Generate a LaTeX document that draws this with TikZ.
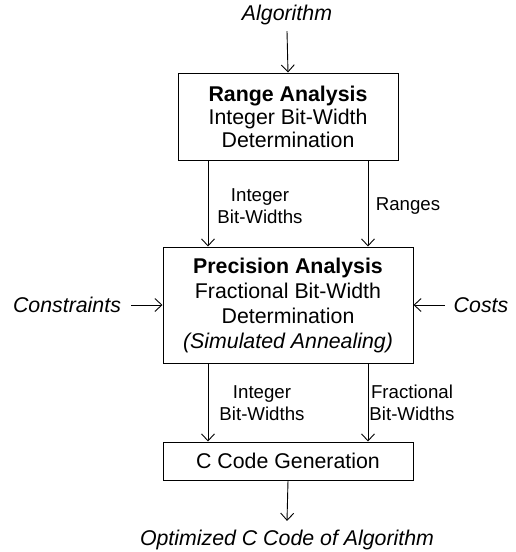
\documentclass[tikz,border=0pt]{standalone}
\usepackage{fontspec}
\setmainfont{Liberation Sans}
\usetikzlibrary{arrows.meta}
\tikzset{
  big/.style={font=\fontsize{21.33}{25}\selectfont, align=center, inner sep=0pt},
  bigit/.style={font=\fontsize{21.33}{25}\selectfont\itshape, align=center, inner sep=0pt},
  small/.style={font=\fontsize{18.67}{22}\selectfont, align=center, inner sep=0pt},
  stagebox/.style={draw, line width=1pt, inner sep=0pt, align=center,
    font=\fontsize{21.33}{25}\selectfont},
  flow/.style={line width=0.9pt, -{Straight Barb[length=7pt,width=13pt]}},
}
\begin{document}
\begin{tikzpicture}[x=1pt,y=-1pt]
  \useasboundingbox (0,0) rectangle (516,552);

  % stages
  \node[stagebox, minimum width=220pt, minimum height=87pt,
        font=\fontsize{21.33}{23}\selectfont] (range) at (288,116.5)
    {\textbf{Range Analysis}\\Integer Bit-Width\\Determination};
  \node[stagebox, minimum width=250pt, minimum height=116pt] (prec) at (288,305)
    {\textbf{Precision Analysis}\\Fractional Bit-Width\\Determination\\\textit{(Simulated Annealing)}};
  \node[stagebox, minimum width=250pt, minimum height=38pt] (ccode) at (288,461)
    {C Code Generation};

  % inputs and outputs
  \node[bigit] (alg) at (287,15) {Algorithm};
  \node[bigit] (cons) at (67,305) {Constraints};
  \node[bigit] (costs) at (481,305) {Costs};
  \node[bigit] (out) at (287,540) {Optimized C Code of Algorithm};

  % edge labels
  \node[small] (l1) at (260,206) {Integer\\Bit-Widths};
  \node[small] (l2) at (408,206) {Ranges};
  \node[small] (l3) at (262,403) {Integer\\Bit-Widths};
  \node[small] (l4) at (412,403) {Fractional\\Bit-Widths};

  % connectors
  \draw[flow] ([yshift=-6pt]alg.south) -- (range.north);
  \draw[flow] ([xshift=-80pt]range.south) -- ([xshift=-80pt]prec.north);
  \draw[flow] ([xshift=80pt]range.south) -- ([xshift=80pt]prec.north);
  \draw[flow] ([xshift=10pt]cons.east) -- (prec.west);
  \draw[flow] ([xshift=-9pt]costs.west) -- (prec.east);
  \draw[flow] ([xshift=-80pt]prec.south) -- ([xshift=-80pt]ccode.north);
  \draw[flow] ([xshift=80pt]prec.south) -- ([xshift=80pt]ccode.north);
  \draw[flow] (ccode.south) -- ([yshift=9pt]out.north);
\end{tikzpicture}
\end{document}
